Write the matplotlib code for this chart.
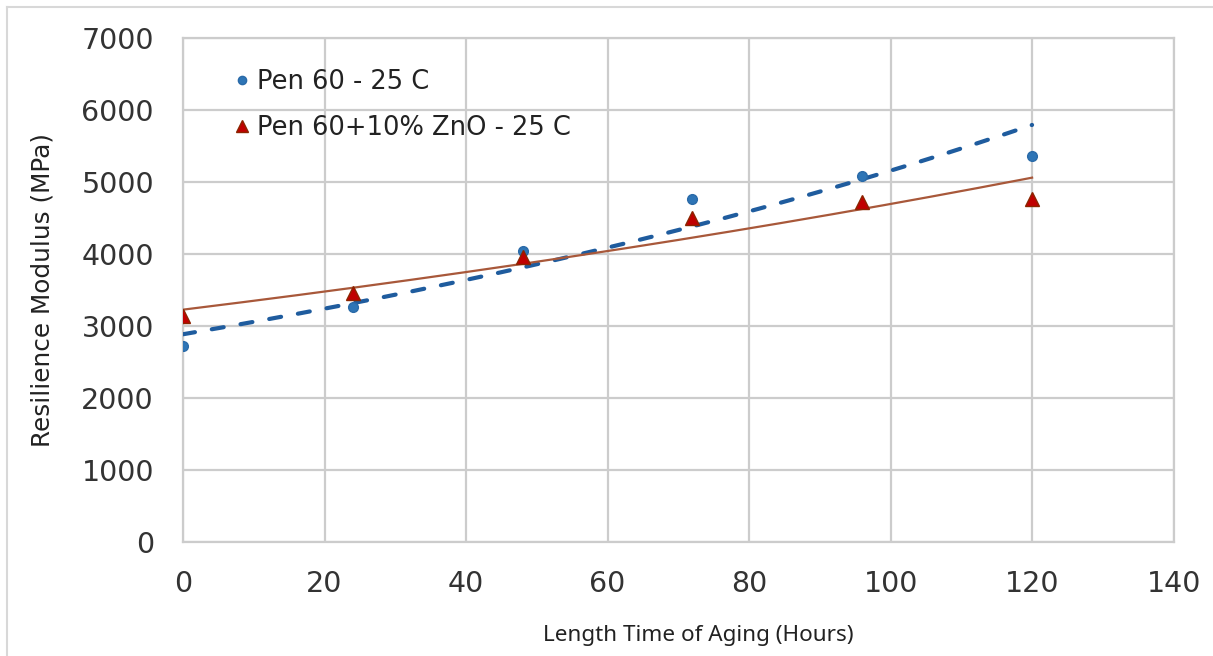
import numpy as np
import matplotlib.pyplot as plt
from matplotlib.lines import Line2D

hours = [0, 24, 48, 72, 96, 120]
pen60 = [2725, 3265, 4040, 4765, 5080, 5365]
pen60_zno = [3140, 3460, 3955, 4500, 4725, 4765]
label_pen60 = "Pen 60 - 25 C"
label_zno = "Pen 60+10% ZnO - 25 C"

fig = plt.figure(figsize=(12.13, 6.56), dpi=100)
ax = fig.add_axes([0.1509, 0.1738, 0.8166, 0.7683])

# linhas de tendencia exponenciais (como no Excel)
x = np.array(hours, dtype=float)
xf = np.linspace(0, 120, 200)
b1, a1 = np.polyfit(x, np.log(pen60), 1)
b2, a2 = np.polyfit(x, np.log(pen60_zno), 1)

ax.plot(xf, np.exp(a1 + b1 * xf), color="#1f5c9e", lw=3, ls=(0, (2.9, 4.1)),
        dash_capstyle="round", zorder=3)
ax.plot(xf, np.exp(a2 + b2 * xf), color="#a8583a", lw=1.6, zorder=3)

ax.plot(hours, pen60, "o", color="#2e75b6", ms=7, mec="#2a6aa8", label=label_pen60, zorder=4)
ax.plot(hours, pen60_zno, "^", color="#c00000", ms=10.5, mec="#8b2500", label=label_zno, zorder=4)

ax.set_xlim(0, 140)
ax.set_ylim(0, 7000)
ax.set_xticks(range(0, 141, 20))
ax.set_yticks(range(0, 7001, 1000))
ax.grid(True, color="#cccccc", lw=1.6)
for s in ax.spines.values():
    s.set_color("#cccccc")
    s.set_linewidth(1.6)
ax.tick_params(length=0, colors="#333333", labelsize=20.5)
ax.tick_params(axis="y", pad=21)
ax.tick_params(axis="x", pad=20)

ax.set_ylabel("Resilience Modulus (MPa)", fontsize=17.8, color="#222222", labelpad=19)
ax.set_xlabel("Length Time of Aging (Hours)", fontsize=16.2, family="Noto Sans", color="#222222")
ax.xaxis.set_label_coords(0.52, -0.165)

leg = ax.legend(loc="upper left", bbox_to_anchor=(0.024, 0.985), frameon=False,
                prop={"size": 18.5}, handletextpad=0.15,
                labelspacing=0.8, handlelength=0.9, markerscale=0.85)
for t in leg.get_texts():
    t.set_color("#222222")

# bordas da imagem original
fig.add_artist(Line2D([0.0058, 1], [0.989, 0.989], color="#d8d8d8", lw=1.5))
fig.add_artist(Line2D([0.0058, 0.0058], [0, 0.989], color="#d8d8d8", lw=1.5))

plt.savefig("out.png", dpi=100)
